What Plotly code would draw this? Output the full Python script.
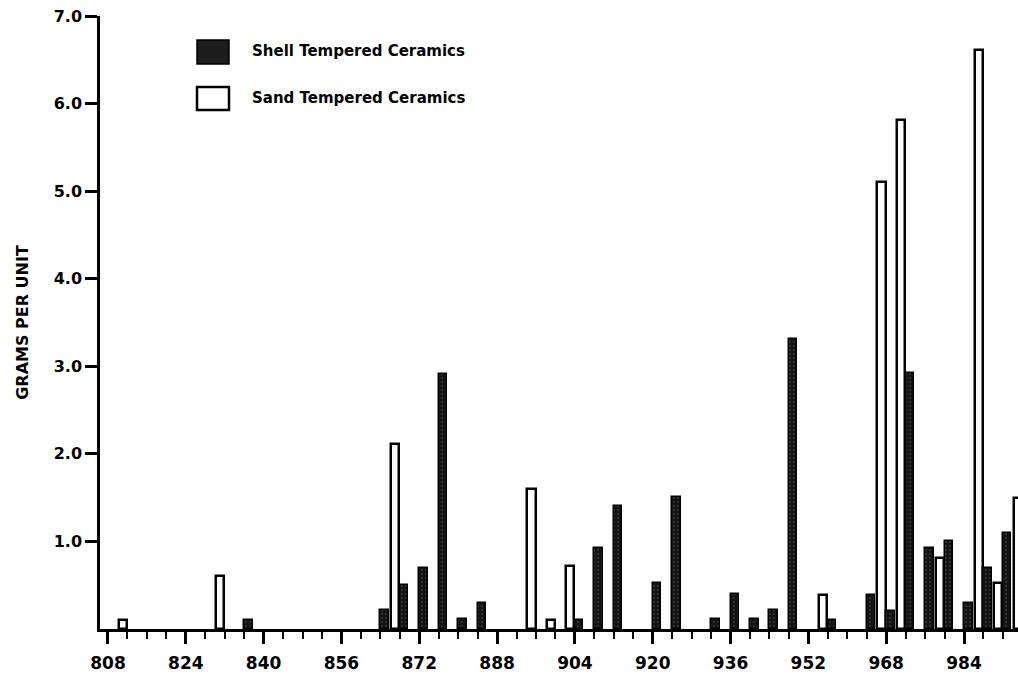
import plotly.graph_objects as go

# Units (excavation unit numbers) and values, grams per unit
shell_units = [836, 864, 868, 872, 876, 880, 884, 904, 908, 912, 920, 924, 932, 936,
               940, 944, 948, 956, 964, 968, 972, 976, 980, 984, 988, 992]
shell_vals = [0.10, 0.22, 0.50, 0.70, 2.91, 0.11, 0.30, 0.10, 0.92, 1.41, 0.52, 1.51, 0.11, 0.40,
              0.11, 0.22, 3.31, 0.10, 0.39, 0.20, 2.92, 0.92, 1.00, 0.30, 0.70, 1.10]

sand_units = [812, 832, 868, 896, 900, 904, 956, 968, 972, 980, 988, 992, 996]
sand_vals = [0.10, 0.60, 2.11, 1.60, 0.10, 0.72, 0.39, 5.10, 5.81, 0.81, 6.61, 0.52, 1.50]

x_tick0 = 808
x_dtick = 16
x_minor_dtick = 4
y_tickvals = [1, 2, 3, 4, 5, 6, 7]
y_ticktext = ["1.0", "2.0", "3.0", "4.0", "5.0", "6.0", "7.0"]

FONT = "DejaVu Sans"

fig = go.Figure()
fig.add_trace(go.Bar(
    x=sand_units, y=sand_vals, name="Sand Tempered Ceramics",
    width=1.7, offset=-1.8,
    marker=dict(color="white", line=dict(color="black", width=2.5)),
    showlegend=False,
))
fig.add_trace(go.Bar(
    x=shell_units, y=shell_vals, name="Shell Tempered Ceramics",
    width=1.75, offset=0.0,
    marker=dict(color="#141414", line=dict(color="black", width=1.5),
                pattern=dict(shape=".", fgcolor="#9a9a9a", bgcolor="#141414",
                             size=4, solidity=0.12)),
    showlegend=False,
))

L, B, T = 100, 46, 16
W, H = 1018, 675
pw = W - L
ph = H - B - T

def px(x):
    return (x - L) / pw

def py(y):
    return (H - B - y) / ph

shapes = [
    dict(type="rect", xref="paper", yref="paper", x0=px(197), x1=px(229), y0=py(64), y1=py(40),
         fillcolor="#1c1c1c", line=dict(color="black", width=1.5)),
    dict(type="rect", xref="paper", yref="paper", x0=px(197), x1=px(229), y0=py(110), y1=py(87),
         fillcolor="white", line=dict(color="black", width=2.5)),
]
annotations = [
    dict(xref="paper", yref="paper", x=px(250), y=py(51), text="Shell Tempered Ceramics",
         showarrow=False, xanchor="left", yanchor="middle",
         font=dict(family=FONT, size=15, color="black", weight="bold")),
    dict(xref="paper", yref="paper", x=px(250), y=py(98), text="Sand Tempered Ceramics",
         showarrow=False, xanchor="left", yanchor="middle",
         font=dict(family=FONT, size=15, color="black", weight="bold")),
]

fig.update_layout(
    width=W, height=H,
    margin=dict(l=L, r=0, t=T, b=B, pad=0),
    paper_bgcolor="white", plot_bgcolor="white",
    barmode="overlay", bargap=0,
    shapes=shapes, annotations=annotations,
    font=dict(family=FONT, color="black"),
    xaxis=dict(
        range=[806.36, 995.1], showgrid=False, zeroline=False,
        showline=True, linecolor="black", linewidth=2.5,
        tickmode="linear", tick0=x_tick0, dtick=x_dtick,
        ticks="outside", ticklen=12, tickwidth=2.5, tickcolor="black",
        ticklabelstandoff=5,
        tickfont=dict(family=FONT, size=17, color="black", weight="bold"),
        minor=dict(tick0=x_tick0, dtick=x_minor_dtick, ticks="outside", ticklen=7,
                   tickwidth=2, tickcolor="black"),
    ),
    yaxis=dict(
        range=[0, 7.0], showgrid=False, zeroline=False,
        showline=True, linecolor="black", linewidth=2.5,
        tickmode="array", tickvals=y_tickvals, ticktext=y_ticktext,
        ticks="outside", ticklen=12, tickwidth=2.5, tickcolor="black",
        tickfont=dict(family=FONT, size=16, color="black", weight="bold"),
        title=dict(text="GRAMS PER UNIT",
                   font=dict(family=FONT, size=16, color="black", weight="bold"), standoff=22),
    ),
)

fig.write_html("out.html", config={"displayModeBar": False})

# remove default page margin so the figure fills the window exactly
with open("out.html", "r", encoding="utf-8") as f:
    html = f.read()
html = html.replace("<head>", "<head><style>html,body{margin:0;padding:0;overflow:hidden;}</style>", 1)
with open("out.html", "w", encoding="utf-8") as f:
    f.write(html)
